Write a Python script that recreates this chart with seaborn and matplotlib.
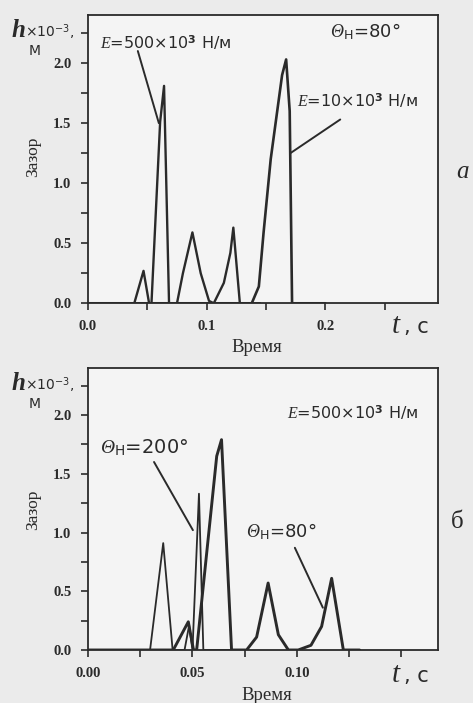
import numpy as np
import seaborn as sns
import matplotlib.pyplot as plt
from matplotlib.ticker import MultipleLocator, FixedLocator, FixedFormatter

# panel a: E=500e3 and E=10e3 N/m, theta=80
t_a500 = [0.0, 0.039, 0.0468, 0.0515, 0.0535, 0.0608, 0.0641, 0.0683,
          0.075, 0.080, 0.088, 0.095, 0.102, 0.106, 0.1145, 0.120, 0.1225, 0.128, 0.145]
h_a500 = [0, 0, 0.27, 0, 0, 1.51, 1.81, 0,
          0, 0.25, 0.59, 0.25, 0.02, 0, 0.17, 0.42, 0.63, 0, 0]
t_a10 = [0.0, 0.138, 0.144, 0.148, 0.154, 0.1636, 0.167, 0.1700, 0.172, 0.20]
h_a10 = [0, 0, 0.14, 0.59, 1.2, 1.90, 2.03, 1.6, 0, 0]

# panel b: E=500e3 N/m, theta=200 and theta=80
t_b200 = [0.0, 0.0297, 0.036, 0.0405, 0.0462, 0.0484, 0.0500, 0.0531, 0.0552, 0.07]
h_b200 = [0, 0, 0.91, 0, 0, 0.21, 0, 1.33, 0, 0]
t_b80 = [0.0, 0.0408, 0.048, 0.0505, 0.052, 0.0616, 0.0639, 0.0687,
         0.0759, 0.0807, 0.0862, 0.0911, 0.0959, 0.1006, 0.1067, 0.1118, 0.1166, 0.1222, 0.130]
h_b80 = [0, 0, 0.24, 0, 0, 1.65, 1.79, 0,
         0, 0.11, 0.57, 0.13, 0, 0, 0.04, 0.2, 0.61, 0, 0]

yticks = [0.0, 0.5, 1.0, 1.5, 2.0]
xticks_a = [0.0, 0.1, 0.2]
xticks_b = [0.00, 0.05, 0.10]

sns.set_theme(style='ticks')
plt.rcParams['font.family'] = ['DejaVu Sans']
plt.rcParams['mathtext.fontset'] = 'custom'
plt.rcParams['mathtext.it'] = 'Liberation Serif:italic'
plt.rcParams['mathtext.rm'] = 'DejaVu Sans'
plt.rcParams['mathtext.bf'] = 'DejaVu Sans:bold'

W, H = 473, 703
ink = '#2a2a2a'
fig = plt.figure(figsize=(W / 100, H / 100), dpi=100, facecolor='#ebebeb')


def px(x, y):
    return x / W, 1 - y / H


def leader(ax, x0, y0, x1, y1):
    ax.annotate('', xy=(x1, y1), xytext=(x0, y0),
                arrowprops=dict(arrowstyle='-', color=ink, lw=1.4, shrinkA=0, shrinkB=0))


def theta_label(x, y, value, size):
    # italic serif theta, then sans subscript and value
    fig.text(*px(x, y), 'Θ', family='Liberation Serif', style='italic',
             fontsize=size, color=ink, va='baseline')
    fig.text(*px(x + size * 1.0, y), r'$_{\mathrm{Н}}$=' + value + '°',
             fontsize=size, color=ink, va='baseline')


def style_axes(ax, xmax, xstep, xlabels):
    ax.set_facecolor('#f4f4f4')
    ax.set_xlim(0, xmax)
    ax.set_ylim(0, 2.4)
    ax.yaxis.set_major_locator(FixedLocator(yticks))
    ax.yaxis.set_major_formatter(FixedFormatter(['%.1f' % v for v in yticks]))
    ax.yaxis.set_minor_locator(MultipleLocator(0.25))
    ax.xaxis.set_major_locator(FixedLocator(xlabels[0]))
    ax.xaxis.set_major_formatter(FixedFormatter(xlabels[1]))
    ax.xaxis.set_minor_locator(MultipleLocator(xstep))
    ax.tick_params(which='both', direction='out', length=5, width=1.2, color=ink,
                   labelsize=10.5, pad=7)
    for lab in ax.get_xticklabels() + ax.get_yticklabels():
        lab.set_family('Liberation Serif')
        lab.set_weight('bold')
        lab.set_color(ink)
    for s in ax.spines.values():
        s.set_visible(True)
        s.set_linewidth(1.3)
        s.set_color(ink)
    ax.set_xlabel('')
    ax.set_ylabel('')


def side_text(dy):
    fig.text(*px(12, 37 + dy), 'h', family='Liberation Serif', style='italic',
             weight='bold', fontsize=18, color=ink, va='baseline')
    fig.text(*px(25, 37 + dy), r'×10$^{\mathregular{-3}}$,', fontsize=10,
             color=ink, va='baseline')
    fig.text(*px(35, 55 + dy), 'М', fontsize=10, color=ink, va='baseline', ha='center')
    fig.text(*px(33, 157 + dy), 'Зазор', family='Liberation Serif', fontsize=12.5,
             rotation=90, color=ink, ha='center', va='center')


# panel a
ax1 = fig.add_axes([88 / W, 1 - 303.3 / H, 350 / W, 288.3 / H])
sns.lineplot(x=t_a500, y=h_a500, ax=ax1, color=ink, lw=1.7, estimator=None, sort=False)
sns.lineplot(x=t_a10, y=h_a10, ax=ax1, color=ink, lw=1.9, estimator=None, sort=False)
style_axes(ax1, 0.295, 0.05, (xticks_a, ['0.0', '0.1', '0.2']))
leader(ax1, 0.042, 2.10, 0.0597, 1.50)
leader(ax1, 0.2126, 1.53, 0.1706, 1.25)
fig.text(*px(100, 43), r'$E$=500×10$^{\mathbf{3}}$ Н/м', fontsize=11.5, color=ink, va='center')
fig.text(*px(297, 100), r'$E$=10×10$^{\mathbf{3}}$ Н/м', fontsize=11.5, color=ink, va='center')
theta_label(330, 37, '80', 13)
side_text(0)
fig.text(*px(257, 347), 'Время', family='Liberation Serif', fontsize=13.5, color=ink,
         ha='center', va='center')
fig.text(*px(392, 333), 't', family='Liberation Serif', style='italic', fontsize=21,
         color=ink, va='baseline')
fig.text(*px(404, 333), ', c', fontsize=15, color=ink, va='baseline')
fig.text(*px(462, 172), 'a', family='Liberation Serif', style='italic', fontsize=18,
         color=ink, ha='center', va='center')

# panel b
ax2 = fig.add_axes([88 / W, 1 - 650 / H, 350 / W, 282 / H])
sns.lineplot(x=t_b200, y=h_b200, ax=ax2, color=ink, lw=1.3, estimator=None, sort=False)
sns.lineplot(x=t_b80, y=h_b80, ax=ax2, color=ink, lw=2.1, estimator=None, sort=False)
style_axes(ax2, 0.1675, 0.025, (xticks_b, ['0.00', '0.05', '0.10']))
leader(ax2, 0.0316, 1.60, 0.0502, 1.02)
leader(ax2, 0.099, 0.87, 0.1124, 0.36)
fig.text(*px(287, 413), r'$E$=500×10$^{\mathbf{3}}$ Н/м', fontsize=11.5, color=ink, va='center')
theta_label(100, 453, '200', 14)
theta_label(246, 537, '80', 13)
side_text(353)
fig.text(*px(267, 695), 'Время', family='Liberation Serif', fontsize=13.5, color=ink,
         ha='center', va='center')
fig.text(*px(392, 682), 't', family='Liberation Serif', style='italic', fontsize=21,
         color=ink, va='baseline')
fig.text(*px(404, 682), ', c', fontsize=15, color=ink, va='baseline')
fig.text(*px(457, 522), 'б', family='Liberation Serif', fontsize=18,
         color=ink, ha='center', va='center')

fig.savefig('out.png', dpi=100, facecolor=fig.get_facecolor())
